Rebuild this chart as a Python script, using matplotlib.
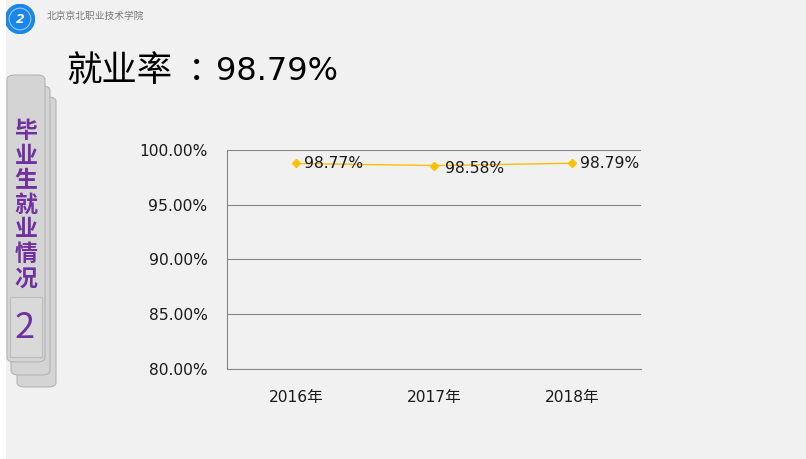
import matplotlib.pyplot as plt
from matplotlib.patches import FancyBboxPatch, Rectangle, Circle
from matplotlib.ticker import FuncFormatter

plt.rcParams['font.family'] = ['DejaVu Sans', 'Noto Sans CJK SC']

years = ['2016年', '2017年', '2018年']
rates = [98.77, 98.58, 98.79]
yticks = [80, 85, 90, 95, 100]
title_head = '就业率'
title_value = '98.79%'
school = '北京京北职业技术学院'
side_text = '毕业生就业情况'

W, H = 806, 459
fig = plt.figure(figsize=(W / 100, H / 100), dpi=100)
fig.patch.set_facecolor('#f1f1f1')


def px(x, y):
    # pixel coords (top-left origin) -> figure fraction
    return x / W, 1 - y / H


# white strip on the left edge
fig.patches.append(Rectangle((0, 0), 6 / W, 1, transform=fig.transFigure,
                             facecolor='white', edgecolor='none'))

# logo + school name
logo = fig.add_axes([(20 - 15) / W, 1 - (19 + 15) / H, 30 / W, 30 / H])
logo.set_xlim(-1, 1)
logo.set_ylim(-1, 1)
logo.axis('off')
logo.add_patch(Circle((0, 0), 0.97, color='#1a86e8'))
logo.add_patch(Circle((0, 0), 0.72, fill=False, edgecolor='#9cc8f2', lw=0.8))
logo.text(0, -0.05, '2', color='white', fontsize=9, ha='center', va='center',
          fontweight='bold', style='italic')
fig.text(*px(47, 16), school, fontsize=7, color='#777777', va='center',
         family='Noto Sans CJK SC')

# title, split so the full-width colon sits centred like the original
fig.text(*px(66, 72), title_head, fontsize=25.5, color='black', va='center',
         family='Noto Sans CJK SC')
fig.text(*px(197, 72), '：', fontsize=24, color='black', va='center',
         ha='center', family='Noto Sans CJK TC')
fig.text(*px(216, 72), title_value, fontsize=23, color='black', va='center')

# side tab
for x0, y0, x1, y1 in [(17, 97, 56, 387), (11, 86, 50, 375), (7, 75, 45, 362)]:
    a, b = px(x0, y1)
    fig.patches.append(FancyBboxPatch((a, b), (x1 - x0) / W, (y1 - y0) / H,
                                      boxstyle='round,pad=0,rounding_size=0.01',
                                      transform=fig.transFigure,
                                      facecolor='#d4d4d4', edgecolor='#b4b4b4', lw=0.8))
a, b = px(10, 357)
fig.patches.append(Rectangle((a, b), 32 / W, 60 / H, transform=fig.transFigure,
                             facecolor='#d9d9d9', edgecolor='#bdbdbd', lw=0.8))
for i, ch in enumerate(side_text):
    fig.text(*px(26, 132 + i * 24.5), ch, fontsize=16.5, color='#7030a0',
             ha='center', va='center', fontweight='bold', family='Noto Sans CJK SC')
fig.text(*px(25, 328), '2', fontsize=26, color='#7030a0', ha='center',
         va='center', fontweight='light', family='Noto Sans CJK SC')

# chart
ax = fig.add_axes([227 / W, 1 - 369 / H, (641 - 227) / W, (369 - 150) / H])
ax.set_facecolor('none')
x = list(range(len(years)))
ax.plot(x, rates, color='#ffc000', lw=1, marker='D', markersize=4,
        markerfacecolor='#ffc000', markeredgecolor='#ffc000')
offsets = [(6, 0), (8, -2), (6, 0)]
for xi, v, off in zip(x, rates, offsets):
    ax.annotate(f'{v:.2f}%', (xi, v), xytext=off, textcoords='offset points',
                va='center', ha='left', fontsize=11.2, color='#1a1a1a')

ax.set_xlim(-0.5, len(years) - 0.5)
ax.set_ylim(80, 100)
ax.set_yticks(yticks)
ax.yaxis.set_major_formatter(FuncFormatter(lambda v, p: f'{v:.2f}%'))
ax.set_xticks(x)
ax.set_xticklabels(years)
ax.tick_params(length=0, labelsize=11.2, colors='#1a1a1a', pad=14)
ax.tick_params(axis='x', pad=15)
ax.grid(axis='y', color='#868686', lw=0.8)
ax.set_axisbelow(True)
for s in ['top', 'right']:
    ax.spines[s].set_visible(False)
for s in ['left', 'bottom']:
    ax.spines[s].set_color('#868686')
    ax.spines[s].set_linewidth(0.8)

fig.savefig('out.png', dpi=100, facecolor=fig.get_facecolor())
